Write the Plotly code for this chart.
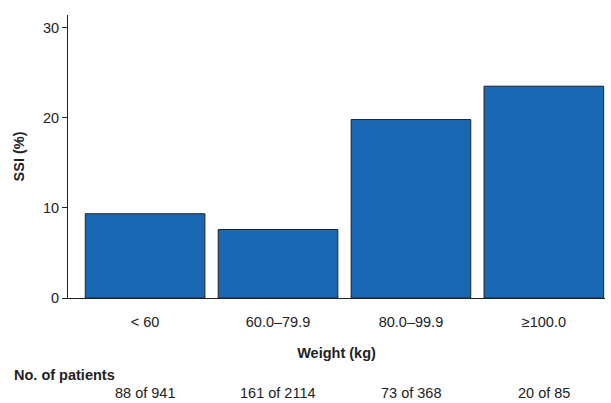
import plotly.graph_objects as go

categories = ["< 60", "60.0–79.9", "80.0–99.9", "≥100.0"]
ssi_pct = [9.35, 7.6, 19.8, 23.5]
patients = ["88 of 941", "161 of 2114", "73 of 368", "20 of 85"]
y_ticks = [0, 10, 20, 30]

W, H = 611, 403
L, R, T, B = 68, 6, 15, 105

fig = go.Figure()
fig.add_trace(go.Bar(
    x=list(range(len(categories))), y=ssi_pct, width=0.9,
    marker=dict(color="#1a68b4", line=dict(color="#222222", width=1)),
    hoverinfo="skip",
))

font = dict(family="Liberation Sans, Arial, sans-serif", size=14.5, color="#222222")

fig.update_layout(
    width=W, height=H,
    margin=dict(l=L, r=R, t=T, b=B),
    plot_bgcolor="white", paper_bgcolor="white",
    showlegend=False, font=font,
    xaxis=dict(
        range=[-0.58, 3.46], tickmode="array",
        tickvals=list(range(len(categories))), ticktext=categories,
        showgrid=False, zeroline=False, showline=True, linecolor="#222222",
        linewidth=1, ticks="", ticklabelstandoff=11,
        title=dict(text="<b>Weight (kg)</b>", standoff=18, font=font),
    ),
    yaxis=dict(
        range=[0, 31.4], tickmode="array", tickvals=y_ticks,
        showgrid=False, zeroline=False, showline=True, linecolor="#222222",
        linewidth=1, ticks="outside", ticklen=5, tickcolor="#222222",
        title=dict(text="<b>SSI (%)</b>", standoff=14, font=font),
    ),
)

plot_h = H - T - B
fig.add_annotation(text="<b>No. of patients</b>", xref="paper", yref="paper",
                   x=-(L - 12) / (W - L - R), y=-(375 - (T + plot_h)) / plot_h,
                   xanchor="left", yanchor="middle", showarrow=False, font=font)
for i, p in enumerate(patients):
    fig.add_annotation(text=p, xref="x", yref="paper", x=i,
                       y=-(393 - (T + plot_h)) / plot_h,
                       xanchor="center", yanchor="middle", showarrow=False, font=font)

fig.write_html("out.html", config={"displayModeBar": False},
               post_script="document.body.style.margin='0';")
